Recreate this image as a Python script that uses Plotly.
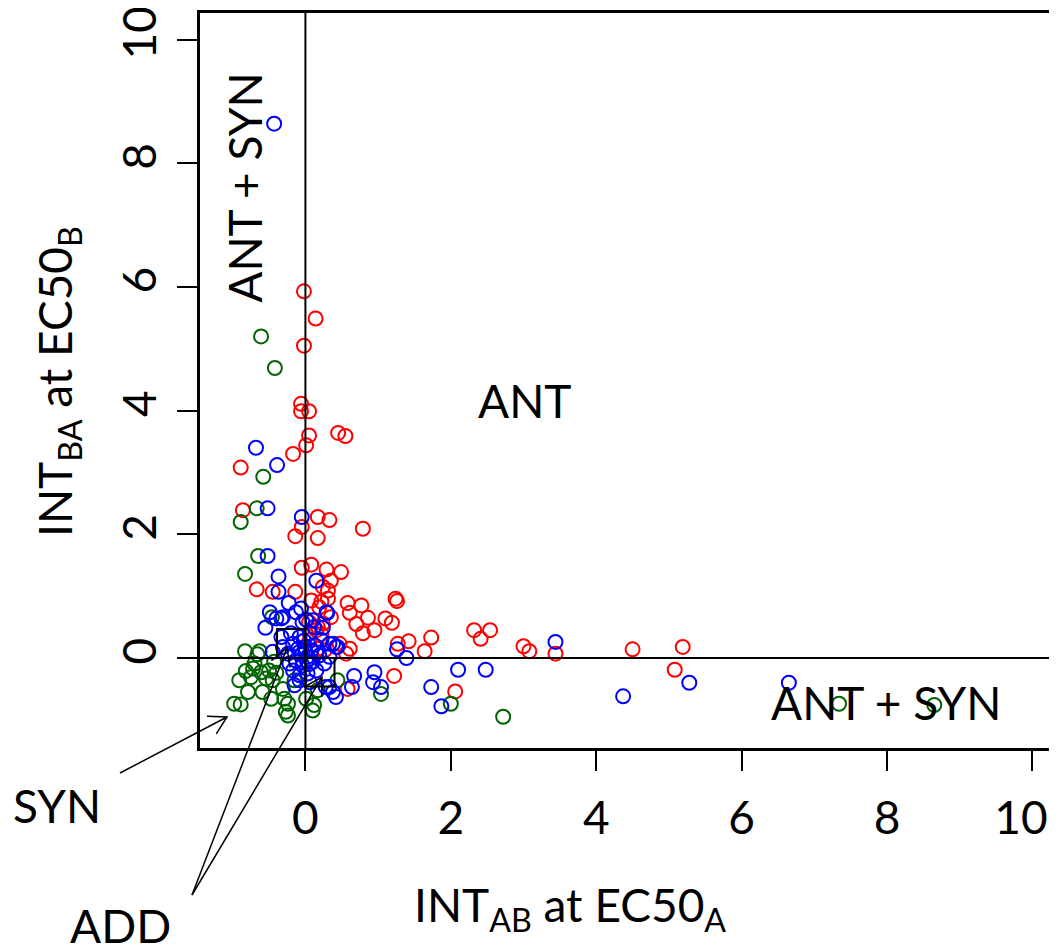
import math
import plotly.graph_objects as go

# ---------------- data ----------------
red_x = [-0.02, 0.14, -0.02, -0.06, -0.06, 0.05, 0.05, 0.45, 0.55, 0.01, -0.17, -0.89,
         -0.86, -0.05, -0.14, 0.17, 0.33, 0.17, 0.79,
         -0.05, 0.08, 0.29, 0.49, 0.35, 0.24, 0.31, -0.67, -0.45, -0.14,
         0.08, 0.22, 0.58, 0.77, 1.24, 1.26, 0.61, 0.86, 1.10, 1.19, 0.70, 0.79, 0.95, 0.35,
         1.27, 1.42, 1.64, 1.73, 0.61,
         0.05, 0.17, 0.24, 0.06, 0.17, 0.26, 0.15, 0.19, 0.31, 0.22, 0.47, 0.56,
         2.32, 2.54, 2.41, 3.00, 3.08, 3.44, 4.50, 5.19, 5.08,
         1.22, 0.58, 2.06]
red_y = [5.93, 5.49, 5.05, 4.11, 3.99, 3.99, 3.60, 3.64, 3.59, 3.44, 3.30, 3.08,
         2.39, 2.12, 1.97, 2.28, 2.23, 1.94, 2.09,
         1.46, 1.51, 1.43, 1.39, 1.25, 1.15, 1.09, 1.11, 1.07, 1.07,
         0.93, 0.91, 0.89, 0.85, 0.96, 0.92, 0.73, 0.65, 0.64, 0.57, 0.55, 0.40, 0.45, 0.66,
         0.23, 0.27, 0.11, 0.33, 0.15,
         0.58, 0.50, 0.56, 0.29, 0.15, 0.12, 0.45, 0.82, 0.96, 0.39, 0.23, 0.07,
         0.45, 0.45, 0.31, 0.19, 0.11, 0.07, 0.14, 0.18, -0.19,
         -0.29, -0.50, -0.54]

blue_x = [-0.43, -0.68, -0.39, -0.52, -0.05, -0.52, -0.37, 0.15, -0.37, -0.23, -0.06, 0.30,
          -0.49, -0.33, -0.55, 0.24, 1.26, 1.39, 0.38, 0.42, 0.01, 0.12, 0.29,
          3.44, 5.28, 4.37, 6.65, 2.10, 2.48, 1.87,
          0.95, 0.93, 1.04, 0.67, 0.64, 1.73, 0.42, 0.33,
          -0.40, -0.31, -0.13, -0.04, 0.10, -0.33, -0.45, -0.31, -0.24, -0.17, -0.08, -0.08,
          -0.01, 0.03, 0.10, -0.04, -0.13, -0.22, -0.17, -0.08, 0.03, 0.15, 0.19, 0.26, 0.33,
          0.12, 0.22, 0.33, 0.44, -0.15, -0.08, 0.06, 0.28, 0.38,
          0.00, 0.05, -0.05, 0.08, -0.10, 0.02, 0.15, -0.02, 0.06, -0.20]
blue_y = [8.64, 3.40, 3.12, 2.42, 2.28, 1.65, 1.32, 1.25, 1.07, 0.89, 0.80, 0.73,
          0.74, 0.64, 0.49, 0.49, 0.14, 0.00, 0.23, 0.18, 0.62, 0.50, 0.74,
          0.26, -0.40, -0.62, -0.40, -0.19, -0.19, -0.78,
          -0.23, -0.39, -0.47, -0.29, -0.47, -0.47, -0.63, -0.47,
          0.64, 0.66, 0.74, 0.58, 0.61, 0.34, 0.10, 0.18, 0.07, 0.23, 0.34, 0.10,
          0.18, 0.02, -0.06, -0.12, -0.04, -0.09, -0.20, -0.28, -0.25, -0.20, 0.04, -0.09, 0.02,
          0.21, 0.29, 0.23, 0.18, -0.44, -0.36, -0.39, -0.47, -0.55,
          0.10, -0.10, 0.05, 0.12, 0.15, -0.05, 0.08, 0.28, 0.40, 0.40]

green_x = [-0.61, -0.42, -0.58, -0.67, -0.89, -0.65, -0.83, -0.46, -0.83, -0.63,
           -0.66, -0.70, -0.82, -0.72, -0.61, -0.50, -0.40, -0.75, -0.54, -0.45, -0.91,
           -0.31, -0.79, -0.59, -0.47, -0.29, -0.24, -0.98, -0.89, 0.01, 0.12, 0.10,
           -0.27, -0.24, 0.17, -0.15, -0.43,
           0.44, 1.04, 2.00, 2.72, 7.34, 8.65]
green_y = [5.20, 4.69, 2.93, 2.42, 2.20, 1.65, 1.36, 0.66, 0.11, 0.11,
           0.06, -0.09, -0.21, -0.17, -0.23, -0.20, -0.24, -0.31, -0.33, -0.36, -0.36,
           -0.50, -0.55, -0.55, -0.66, -0.66, -0.74, -0.74, -0.75, -0.66, -0.76, -0.85,
           -0.87, -0.93, -0.52, -0.36, -0.06,
           -0.36, -0.58, -0.74, -0.95, -0.74, -0.76]

x_ticks = [0, 2, 4, 6, 8, 10]
x_tick_text = ["0", "2", "4", "6", "8", "10\u2002"]
y_ticks = [0, 2, 4, 6, 8, 10]
y_tick_text = ["0", "2", "4", "6", "8", "10"]

# ---------------- layout geometry ----------------
OFF = 8  # default page body margin
FW, FH = 1057 - OFF, 947 - OFF
ML, MT, MR = 200 - OFF, 13 - OFF, 0
PW = FW - ML - MR
PH = 735
MB = FH - MT - PH
FONT = "Lato"
FS = 46


def px(xp, yp):
    """screen pixel (page coords) -> paper coords"""
    xp -= OFF
    yp -= OFF
    return (xp - ML) / PW, (FH - MB - yp) / PH


fig = go.Figure()
for xs, ys, col in [(red_x, red_y, "#FF0000"), (green_x, green_y, "#006400"),
                    (blue_x, blue_y, "#0000FF")]:
    fig.add_trace(go.Scatter(x=xs, y=ys, mode="markers",
                             marker=dict(symbol="circle-open", size=14, color=col,
                                         line=dict(width=2, color=col)),
                             showlegend=False, hoverinfo="skip"))

shapes = []
# reference lines at 0
shapes.append(dict(type="line", xref="x", yref="paper", x0=0, x1=0, y0=0, y1=1,
                   line=dict(color="black", width=2), layer="above"))
shapes.append(dict(type="line", xref="paper", yref="y", x0=0, x1=1, y0=0, y1=0,
                   line=dict(color="black", width=2), layer="above"))
# small ADD boxes
shapes.append(dict(type="rect", xref="x", yref="y", x0=-0.39, x1=0, y0=0, y1=0.47,
                   line=dict(color="black", width=2), layer="above"))
shapes.append(dict(type="rect", xref="x", yref="y", x0=0, x1=0.40, y0=-0.46, y1=0,
                   line=dict(color="black", width=2), layer="above"))


def arrow(tail, tip, hl=20, ang=30):
    x0, y0 = tail
    x1, y1 = tip
    a = math.atan2(y0 - y1, x0 - x1)
    pts = []
    for s in (-1, 1):
        b = a + s * math.radians(ang)
        pts.append((x1 + hl * math.cos(b), y1 + hl * math.sin(b)))
    P = lambda p: "%.5f,%.5f" % px(*p)
    path = "M%s L%s M%s L%s L%s" % (P(tail), P(tip), P(pts[0]), P(tip), P(pts[1]))
    return dict(type="path", xref="paper", yref="paper", path=path,
                line=dict(color="black", width=1.5), layer="above")


shapes.append(arrow((120, 773), (227, 717)))
shapes.append(arrow((192, 895), (287, 648)))
shapes.append(arrow((192, 895), (322, 677)))

ann = []
tf = dict(family=FONT, size=FS, color="black")
ann.append(dict(text="ANT", x=3.01, y=4.16, xref="x", yref="y", showarrow=False, font=tf))
ann.append(dict(text="ANT + SYN", x=-0.84, y=7.61, xref="x", yref="y", showarrow=False,
                textangle=-90, font=tf))
ann.append(dict(text="ANT + SYN", x=7.98, y=-0.72, xref="x", yref="y", showarrow=False,
                font=tf))
for t, (xp, yp) in [("SYN", (57, 805)), ("ADD", (120, 925))]:
    xx, yy = px(xp, yp)
    ann.append(dict(text=t, x=xx, y=yy, xref="paper", yref="paper", showarrow=False,
                    font=tf, xanchor="center", yanchor="middle"))
xx, yy = px(570, 908)
ann.append(dict(text="INT<sub>AB</sub> at EC50<sub>A</sub>", x=xx, y=yy, xref="paper",
                yref="paper", showarrow=False, font=tf, xanchor="center", yanchor="middle"))
xx, yy = px(58, 382)
ann.append(dict(text="INT<sub>BA</sub> at EC50<sub>B</sub>", x=xx, y=yy, xref="paper",
                yref="paper", showarrow=False, font=tf, textangle=-90,
                xanchor="center", yanchor="middle"))

axis_common = dict(showgrid=False, zeroline=False, showline=True, linecolor="black",
                   linewidth=2.5, ticks="outside", ticklen=20, tickwidth=2,
                   tickcolor="black", automargin=False, ticklabeloverflow="allow",
                   tickfont=dict(family=FONT, size=FS, color="black"))

fig.update_layout(
    width=FW, height=FH,
    margin=dict(l=ML, r=MR, t=MT, b=MB, pad=0, autoexpand=False),
    paper_bgcolor="white", plot_bgcolor="white",
    xaxis=dict(range=[-1.45, -1.45 + PW / 72.7], tickvals=x_ticks, ticktext=x_tick_text,
               mirror=True, ticklabelstandoff=8, **axis_common),
    yaxis=dict(range=[-1.455, 10.43], tickvals=y_ticks, ticktext=y_tick_text,
               mirror=False, tickangle=-90, ticklabelstandoff=3, **axis_common),
    shapes=shapes, annotations=ann,
)

fig.write_html("out.html")
